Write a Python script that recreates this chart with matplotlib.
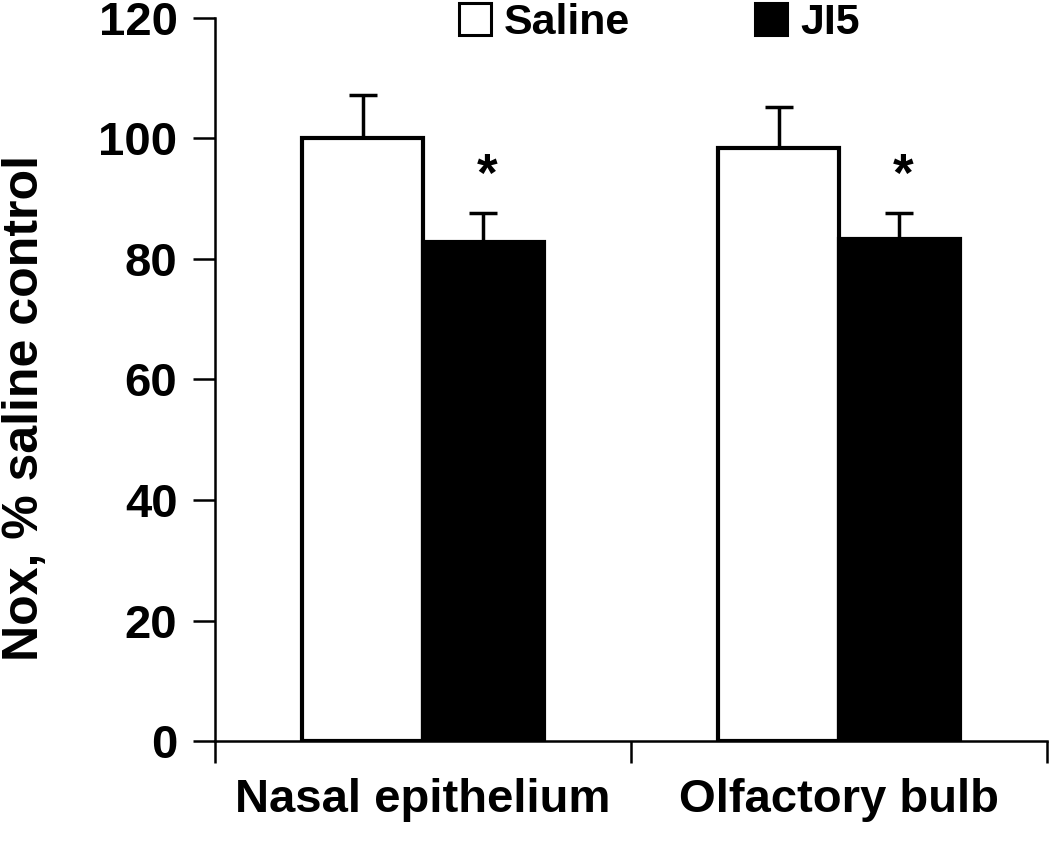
import numpy as np
import matplotlib
matplotlib.use("Agg")
import matplotlib.pyplot as plt
from matplotlib.patches import Patch

plt.rcParams['font.family'] = ['Liberation Sans', 'DejaVu Sans']
plt.rcParams['font.weight'] = 'bold'

# data
regions = ['Nasal epithelium', 'Olfactory bulb']
saline = [100.0, 98.5]
saline_err = [7.3, 6.7]
ji5 = [82.9, 83.3]
ji5_err = [4.8, 4.4]
y_ticks = [0, 20, 40, 60, 80, 100, 120]

fig = plt.figure(figsize=(10.5, 8.48), dpi=100)
ax = fig.add_axes([215 / 1050, 107 / 848, 832 / 1050, 723 / 848])

x = np.arange(len(regions))
w = 0.29

ax.bar(x - w / 2, saline, w, color='white', edgecolor='black', linewidth=3, zorder=3)
ax.bar(x + w / 2, ji5, w, color='black', edgecolor='black', linewidth=3, zorder=3)

# upward-only error bars
ax.errorbar(x - w / 2, saline, yerr=[np.zeros(len(saline)), saline_err], fmt='none',
            ecolor='black', elinewidth=2.5, capsize=10, capthick=2.5, zorder=2)
ax.errorbar(x + w / 2, ji5, yerr=[np.zeros(len(ji5)), ji5_err], fmt='none',
            ecolor='black', elinewidth=2.5, capsize=10, capthick=2.5, zorder=2)

# significance stars
for xi, v, e in zip(x + w / 2, ji5, ji5_err):
    ax.text(xi + 0.01, v + e + 6.0, '*', ha='center', va='center', fontsize=38, fontweight='bold')

ax.set_xlim(-0.5, 1.5)
ax.set_ylim(0, 120)
ax.set_yticks(y_ticks)
ax.tick_params(axis='y', direction='out', length=16, width=1.8, pad=11, labelsize=34)

ax.set_xticks(x)
ax.set_xticklabels(regions)
ax.set_xticks([-0.5, 0.5, 1.5], minor=True)
ax.tick_params(axis='x', which='major', length=0, pad=27, labelsize=34)
ax.tick_params(axis='x', which='minor', direction='out', length=16, width=1.8)

for s in ['top', 'right']:
    ax.spines[s].set_visible(False)
for s in ['left', 'bottom']:
    ax.spines[s].set_linewidth(1.8)

fig.text(25 / 1050, 1 - 408 / 848, 'Nox, % saline control', rotation=90,
         ha='center', va='center', fontsize=36, fontweight='bold')

handles = [Patch(facecolor='white', edgecolor='black', linewidth=2.2, label='Saline'),
           Patch(facecolor='black', edgecolor='black', linewidth=2.2, label='JI5')]
ax.legend(handles=handles, loc='center', bbox_to_anchor=(0.534, 0.993), ncol=2,
          frameon=False, fontsize=31, handlelength=0.75, handleheight=0.75,
          handletextpad=0.3, columnspacing=2.9, borderpad=0, borderaxespad=0)

fig.savefig('out.png', dpi=100)
